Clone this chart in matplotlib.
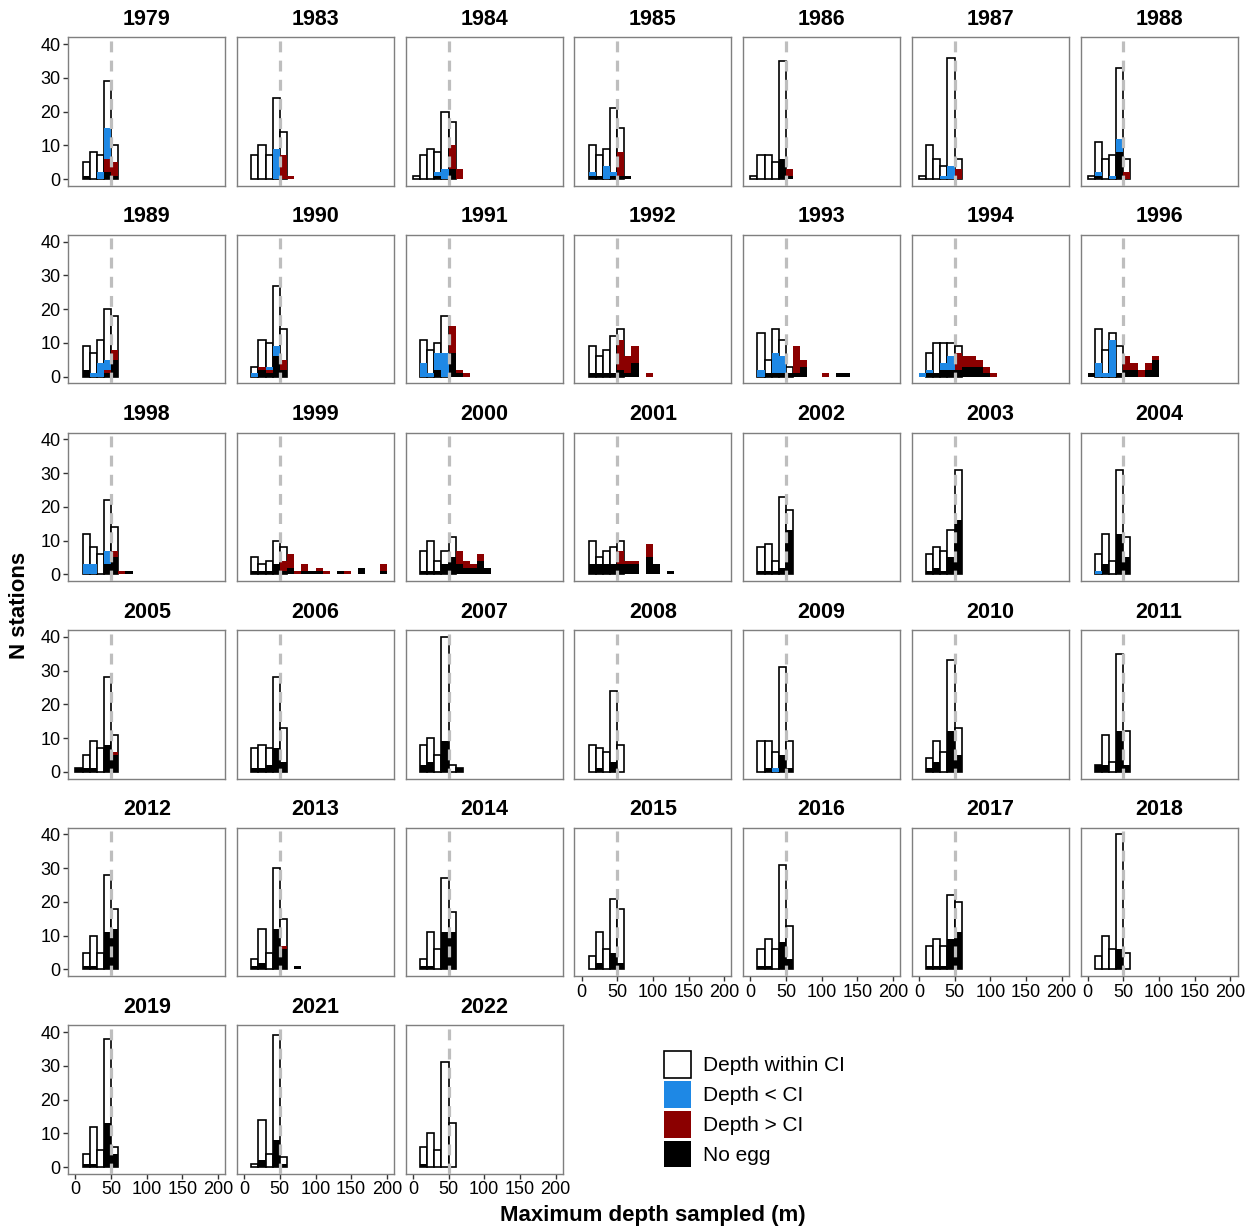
import numpy as np
import matplotlib
matplotlib.use("Agg")
import matplotlib.pyplot as plt
from matplotlib.patches import Patch

plt.rcParams['font.family'] = ['Liberation Sans', 'DejaVu Sans']

# counts per 10 m bin of maximum depth sampled, bins start at 0 m
years = [1979, 1983, 1984, 1985, 1986, 1987, 1988,
         1989, 1990, 1991, 1992, 1993, 1994, 1996,
         1998, 1999, 2000, 2001, 2002, 2003, 2004,
         2005, 2006, 2007, 2008, 2009, 2010, 2011,
         2012, 2013, 2014, 2015, 2016, 2017, 2018,
         2019, 2021, 2022]

within_ci = [
    [0, 5, 8, 7, 29, 10], [0, 7, 10, 7, 24, 14], [1, 7, 9, 8, 20, 17], [0, 10, 7, 9, 21, 15],
    [1, 7, 7, 5, 35], [1, 10, 6, 4, 36, 6], [1, 11, 6, 7, 33, 6],
    [0, 9, 7, 11, 20, 18], [0, 3, 11, 10, 27, 14], [0, 11, 8, 10, 18], [0, 9, 6, 8, 12, 14],
    [0, 13, 5, 14, 11, 3], [0, 7, 10, 10, 10, 9], [0, 14, 8, 13, 9],
    [0, 12, 8, 6, 22, 14], [0, 5, 3, 4, 10, 8], [0, 7, 10, 4, 7, 11], [0, 10, 5, 7, 8, 10],
    [0, 8, 9, 4, 23, 19], [0, 6, 8, 7, 13, 31], [0, 6, 12, 4, 31, 11],
    [1, 5, 9, 7, 28, 11], [0, 7, 8, 7, 28, 13], [0, 8, 10, 5, 40, 2, 1], [0, 8, 7, 6, 24, 8],
    [0, 9, 9, 6, 31, 9], [0, 4, 9, 6, 33, 13], [0, 2, 11, 3, 35, 12],
    [0, 5, 10, 5, 28, 18], [0, 3, 12, 5, 30, 15], [0, 3, 11, 6, 27, 17], [0, 4, 11, 6, 21, 18],
    [0, 6, 9, 6, 31, 13], [0, 7, 9, 7, 22, 20], [0, 4, 10, 6, 40, 5],
    [0, 4, 12, 5, 38, 6], [0, 1, 14, 4, 39, 3], [0, 6, 10, 5, 31, 13],
]

below_ci = [
    [0, 0, 0, 2, 15], [0, 0, 0, 0, 9], [0, 0, 0, 2, 3], [0, 2, 0, 4, 2],
    [], [0, 0, 0, 1, 4], [0, 2, 0, 1, 12],
    [0, 0, 1, 4, 5], [0, 1, 0, 3, 9], [0, 4, 1, 7, 7], [],
    [0, 2, 0, 7, 6], [1, 2, 0, 4, 6], [0, 4, 1, 11, 1],
    [0, 3, 3, 0, 7], [], [], [],
    [], [], [0, 1],
    [], [], [], [],
    [0, 0, 0, 1], [], [],
    [], [], [], [],
    [], [], [],
    [], [], [],
]

above_ci = [
    [0, 0, 0, 0, 6, 5], [0, 0, 0, 0, 0, 7, 1], [0, 0, 0, 0, 0, 10, 3], [0, 0, 0, 0, 0, 8],
    [0, 0, 0, 0, 0, 3], [0, 0, 0, 0, 0, 3], [0, 0, 0, 0, 0, 2],
    [0, 0, 0, 0, 2, 8], [0, 0, 3, 2, 0, 5], [0, 0, 0, 0, 0, 15, 2, 1],
    [0, 0, 0, 0, 0, 11, 6, 9, 0, 1],
    [0, 0, 0, 0, 0, 1, 9, 5, 0, 0, 1], [0, 0, 0, 0, 0, 7, 6, 6, 5, 3, 1],
    [0, 0, 0, 0, 0, 6, 4, 2, 4, 6],
    [0, 0, 0, 0, 0, 7, 1], [0, 0, 0, 0, 0, 4, 6, 1, 3, 0, 2, 1, 0, 0, 1, 0, 0, 0, 0, 3],
    [0, 0, 0, 0, 0, 0, 7, 4, 3, 6, 2], [0, 0, 0, 0, 0, 7, 4, 4, 0, 9],
    [], [], [],
    [0, 0, 0, 0, 0, 6], [], [], [],
    [], [], [],
    [], [0, 0, 0, 0, 0, 7], [], [],
    [], [], [],
    [], [], [],
]

no_egg = [
    [0, 1, 0, 0, 2, 1], [], [0, 0, 0, 1, 0, 3], [0, 1, 1, 0, 1, 1, 1],
    [0, 0, 0, 0, 6, 1], [], [0, 1, 0, 0, 8],
    [0, 2, 0, 0, 1, 5], [0, 0, 2, 1, 6, 2], [0, 0, 0, 2, 0, 7, 1], [0, 1, 1, 1, 1, 2, 1, 4],
    [0, 0, 1, 1, 1, 1, 1, 3, 0, 0, 0, 0, 1, 1], [0, 1, 1, 2, 2, 2, 3, 3, 3, 1],
    [1, 0, 0, 0, 1, 2, 2, 0, 2, 5],
    [0, 0, 0, 0, 3, 5, 0, 1], [0, 1, 1, 1, 3, 1, 2, 0, 1, 1, 1, 0, 0, 1, 0, 0, 2, 0, 0, 1],
    [0, 1, 1, 1, 3, 5, 3, 2, 2, 4, 2], [0, 3, 3, 3, 3, 3, 3, 3, 0, 5, 3, 0, 1],
    [0, 1, 1, 1, 2, 13], [0, 1, 2, 1, 5, 16], [0, 0, 3, 0, 12, 5],
    [1, 1, 1, 0, 8, 5], [0, 1, 1, 2, 7, 3], [0, 2, 3, 0, 9, 0, 1], [0, 0, 1, 0, 3],
    [0, 0, 1, 0, 5, 1], [0, 1, 3, 0, 12, 5], [0, 2, 2, 0, 12, 2],
    [0, 1, 1, 0, 11, 12], [0, 1, 2, 0, 12, 6, 0, 1], [0, 1, 1, 0, 11, 11], [0, 0, 2, 0, 5, 2],
    [0, 1, 1, 0, 8, 3], [0, 1, 1, 1, 9, 11], [0, 0, 0, 0, 6],
    [0, 1, 1, 0, 13, 4], [0, 0, 2, 0, 8, 1], [0, 1],
]

labels = ['Depth within CI', 'Depth < CI', 'Depth > CI', 'No egg']
colors = ['white', '#1E88E5', '#8B0000', 'black']
binwidth = 10
ci_depth = 50

W, H = 1257, 1230
fig = plt.figure(figsize=(W / 100, H / 100), dpi=100)

ncol = 7
pw, ph = 157, 148.5
x0, y0 = 68.3, 37.3
dx, dy = 168.7, 197.6

for i, yr in enumerate(years):
    r, c = divmod(i, ncol)
    left = x0 + c * dx
    top = y0 + r * dy
    ax = fig.add_axes([left / W, 1 - (top + ph) / H, pw / W, ph / H])

    for k, series in enumerate([within_ci, below_ci, above_ci, no_egg]):
        counts = np.array(series[i], dtype=float)
        if counts.size == 0:
            continue
        edges = binwidth * np.arange(counts.size)
        m = counts > 0
        if k == 0:
            ax.bar(edges[m], counts[m], width=binwidth, align='edge',
                   facecolor='white', edgecolor='black', linewidth=1.2, zorder=2)
        else:
            ax.bar(edges[m], counts[m], width=binwidth, align='edge',
                   facecolor=colors[k], edgecolor='none', linewidth=0, zorder=2 + k)

    # CI reference depth
    ax.axvline(ci_depth, color='#BEBEBE', lw=2.3, ls=(0, (3.4, 2.6)), zorder=10)

    ax.set_xlim(-10, 210)
    ax.set_ylim(-2, 42)
    ax.set_xticks([0, 50, 100, 150, 200])
    ax.set_yticks([0, 10, 20, 30, 40])
    for s in ax.spines.values():
        s.set_color('#7F7F7F')
        s.set_linewidth(1.0)
    ax.tick_params(length=3.5, width=1, color='#333333', labelsize=13,
                   labelcolor='black', pad=2)
    if c != 0:
        ax.tick_params(axis='y', left=False, labelleft=False)
    if i + ncol < len(years):
        ax.tick_params(axis='x', bottom=False, labelbottom=False)
    ax.set_title(str(yr), fontsize=15.5, fontweight='bold', pad=9)

fig.text(20 / W, 1 - 605 / H, 'N stations', rotation=90, ha='center', va='center',
         fontsize=16, fontweight='bold')
fig.text(653 / W, 1 - 1216 / H, 'Maximum depth sampled (m)', ha='center', va='center',
         fontsize=16, fontweight='bold')

handles = [Patch(facecolor=colors[0], edgecolor='black', linewidth=1.2),
           Patch(facecolor=colors[1], edgecolor='none'),
           Patch(facecolor=colors[2], edgecolor='none'),
           Patch(facecolor=colors[3], edgecolor='none')]
fig.legend(handles, labels, loc='upper left', bbox_to_anchor=(664 / W, 1 - 1051 / H),
           frameon=False, fontsize=15, handlelength=1.3, handleheight=1.6,
           labelspacing=0.15, handletextpad=0.55, borderpad=0, borderaxespad=0)

fig.savefig('out.png', dpi=100)
